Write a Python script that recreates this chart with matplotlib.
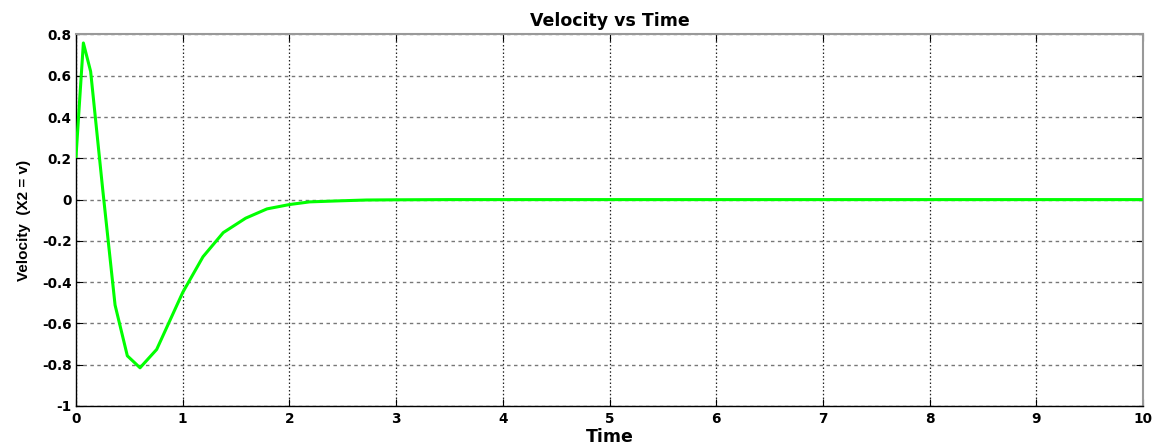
import matplotlib
matplotlib.use("Agg")
import matplotlib.pyplot as plt

# Solver output: time samples and velocity state X2
time = [0.0, 0.03, 0.069, 0.137, 0.25, 0.366, 0.481, 0.6, 0.756, 1.0,
        1.19, 1.38, 1.59, 1.79, 2.0, 2.19, 2.47, 2.72, 3.0, 3.5, 4.0,
        5.0, 6.0, 7.0, 8.0, 9.0, 10.0]
velocity = [0.209, 0.45, 0.759, 0.621, 0.05, -0.511, -0.757, -0.815, -0.726, -0.45,
            -0.277, -0.160, -0.090, -0.045, -0.024, -0.011, -0.006, -0.002, -0.001, 0.0, 0.0,
            0.0, 0.0, 0.0, 0.0, 0.0, 0.0]

x_ticks = list(range(0, 11))
y_ticks = [-1, -0.8, -0.6, -0.4, -0.2, 0, 0.2, 0.4, 0.6, 0.8]
y_tick_labels = ["-1", "-0.8", "-0.6", "-0.4", "-0.2", "0", "0.2", "0.4", "0.6", "0.8"]

plt.rcParams['font.family'] = ['DejaVu Sans']

fig = plt.figure(figsize=(11.57, 4.48), dpi=100)
ax = fig.add_axes([0.0657, 0.0938, 0.9222, 0.8292])

ax.plot(time, velocity, color="#00ff00", linewidth=2.2, zorder=3)

ax.set_xlim(0, 10)
ax.set_ylim(-1, 0.8)
ax.set_xticks(x_ticks)
ax.set_xticklabels([str(t) for t in x_ticks])
ax.set_yticks(y_ticks)
ax.set_yticklabels(y_tick_labels)

# Vertical grid dotted dark, horizontal grid dashed grey
ax.xaxis.grid(True, linestyle=(0, (1.2, 1.8)), color="#222222", linewidth=0.9)
ax.yaxis.grid(True, linestyle=(0, (2.5, 2.5)), color="#777777", linewidth=1.0)
ax.set_axisbelow(True)

ax.tick_params(axis="both", which="both", direction="in", length=5,
               top=True, right=True, labelsize=9.8, colors="black")
ax.tick_params(axis="y", pad=3)
ax.tick_params(axis="x", pad=4)
for lbl in ax.get_xticklabels() + ax.get_yticklabels():
    lbl.set_fontweight("bold")

for side in ("left", "bottom"):
    ax.spines[side].set_color("black")
    ax.spines[side].set_linewidth(1.0)
for side in ("top", "right"):
    ax.spines[side].set_color("#999999")
    ax.spines[side].set_linewidth(1.5)

ax.set_title("Velocity vs Time", fontsize=12.5, fontweight="bold", pad=6)
ax.set_xlabel("Time", fontsize=12.5, fontweight="bold", labelpad=2)
ax.set_ylabel("Velocity  (X2 = v)", fontsize=11, fontweight="bold", labelpad=8,
              family=["Liberation Sans"])

fig.savefig("out.png", dpi=100)
